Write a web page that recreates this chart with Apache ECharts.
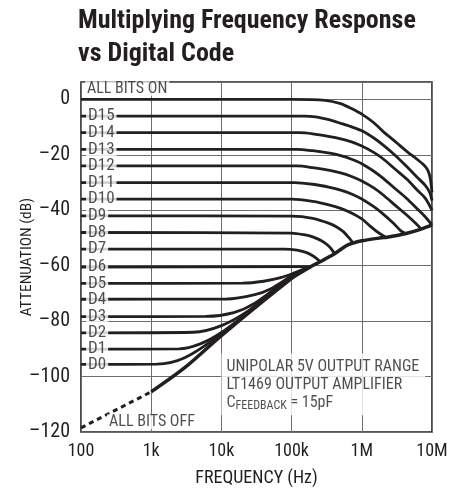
<!DOCTYPE html>
<html><head><meta charset="utf-8">
<script src="https://cdn.jsdelivr.net/npm/echarts@6/dist/echarts.min.js"></script>
<style>html,body{margin:0;padding:0;background:#fff}#c{width:467px;height:494px}</style>
</head><body><div id="c"></div>
<script>
// ---- data (frequency Hz, attenuation dB) ----
const xTicks = ['100','1k','10k','100k','1M','10M'];
const allBitsOn = [[100,0],[1e5,0],[3e5,-0.3],[5e5,-1.5],[7e5,-3.2],[1e6,-5.3],[1.5e6,-8.5],[2e6,-11.5],[3e6,-15.2],[4.4e6,-18.8],[6e6,-21.4],[7.6e6,-23.6],[8.6e6,-25.3],[9.2e6,-27.2],[9.6e6,-29.6],[1e7,-33.5]];
const d15 = [[100,-6],[1.5e5,-6],[2.2e5,-6.3],[3.5e5,-7.4],[5e5,-8.6],[7e5,-9.8],[1e6,-11.3],[1.5e6,-14],[2e6,-16.4],[3e6,-20.2],[4.4e6,-24.3],[6e6,-27.8],[8e6,-31],[9.3e6,-33.6],[1e7,-36.5]];
const d14 = [[100,-12],[1.3e5,-12],[2e5,-12.4],[3.5e5,-13.4],[5e5,-14.2],[7e5,-15.2],[1e6,-16.8],[1.5e6,-19.2],[2e6,-21.4],[3e6,-25.2],[4.4e6,-28.8],[6e6,-32.4],[8e6,-35.6],[1e7,-40]];
const d13 = [[100,-18],[1.2e5,-18],[2e5,-18.5],[3.5e5,-19.4],[5e5,-20.3],[7e5,-21.5],[1e6,-23.2],[1.5e6,-26],[2e6,-28.4],[3e6,-32.2],[4.4e6,-35.8],[6e6,-39.2],[8e6,-42.3],[1e7,-45.3]];
const d12 = [[100,-24],[1.2e5,-24],[2e5,-24.6],[3.5e5,-25.6],[5e5,-26.5],[7e5,-27.7],[1e6,-29.4],[1.5e6,-32],[2e6,-34.4],[3e6,-38.2],[4.4e6,-41.8],[5.8e6,-44.6],[7e6,-46.7]];
const d11 = [[100,-30],[1.1e5,-30],[2e5,-30.6],[3.5e5,-31.7],[5e5,-32.7],[7e5,-34],[1e6,-35.9],[1.5e6,-38.8],[2e6,-41.3],[2.8e6,-44.6],[3.6e6,-47.4],[4.2e6,-48.4]];
const d10 = [[100,-36],[1e5,-36],[2e5,-36.8],[3.5e5,-38.1],[5e5,-39.3],[7e5,-40.9],[1e6,-43.1],[1.3e6,-45.6],[1.7e6,-48],[2.2e6,-49.7]];
const d9 = [[100,-42],[1e5,-42.1],[2e5,-42.9],[3.5e5,-44.8],[4.5e5,-46.2],[5.5e5,-47.8],[6.5e5,-49.8],[7.5e5,-51.8]];
const d8 = [[100,-48],[1e5,-48.2],[1.5e5,-48.8],[2e5,-49.6],[2.7e5,-51.1],[3.4e5,-53],[4.1e5,-55.6]];
const d7 = [[100,-54],[8e4,-54],[1.2e5,-54.4],[1.6e5,-55.2],[2e5,-56.4],[2.3e5,-57.5],[2.6e5,-58.6]];
const d6 = [[100,-60.5],[1.9e5,-60.3]];
const d5 = [[100,-66.4],[2e4,-66.3],[4e4,-65.6],[7e4,-64.3],[1e5,-63],[1.4e5,-61.5],[1.9e5,-60.3]];
const d4 = [[100,-72.1],[1.2e4,-72],[3e4,-70.4],[5e4,-68.4],[1e5,-63.7],[1.9e5,-60.3]];
const d3 = [[100,-78.4],[6e3,-78.3],[1.5e4,-76.9],[3e4,-73.5],[1e5,-63.9],[1.9e5,-60.3]];
const d2 = [[100,-84.2],[4e3,-84],[1e4,-81.6],[2.5e4,-76],[1e5,-64.1],[1.9e5,-60.3]];
const d1 = [[100,-90.1],[2.5e3,-90],[5e3,-88.2],[1e4,-84.1],[3e4,-75],[1e5,-64.3],[1.9e5,-60.3]];
const d0 = [[100,-95.6],[1.2e3,-95.5],[3e3,-93.2],[1e4,-84.6],[1e5,-64.4],[1.9e5,-60.3]];
const allBitsOffDashed = [[100,-118.5],[1e3,-105.5]];
const allBitsOffSolid = [[1e3,-105.5],[3e3,-96.8],[1e4,-85.2],[1e5,-64.6],[1.5e5,-61.8],[2e5,-59.9],[2.6e5,-58.5],[3.6e5,-56.5],[4.2e5,-55.5],[6e5,-52.8],[7.5e5,-51.8],[1e6,-51],[1.8e6,-50],[2.3e6,-49.7],[3e6,-49.2],[4.4e6,-48.3],[7e6,-46.8],[1e7,-45.3]];
const codeNames = ['D15','D14','D13','D12','D11','D10','D9','D8','D7','D6','D5','D4','D3','D2','D1','D0'];
const codeCurves = [d15,d14,d13,d12,d11,d10,d9,d8,d7,d6,d5,d4,d3,d2,d1,d0];

// ---- chart ----
const INK = '#231f20';
const FONT = "'Liberation Sans Narrow','Roboto Condensed','Liberation Sans',sans-serif";
const chart = echarts.init(document.getElementById('c'), null, {renderer:'canvas'});
const lineSeries = (data, w, extra) => Object.assign({
  type:'line', data, showSymbol:false, symbol:'none', smooth:0.3,
  lineStyle:{color:INK, width:w}, silent:true, z:3, animation:false
}, extra||{});
const series = [];
series.push(lineSeries(allBitsOn, 2.8, {smooth:0.22}));
codeCurves.forEach(c => series.push(lineSeries(c, 2.8)));
series.push(lineSeries(allBitsOffSolid, 3.5, {z:4}));
series.push(lineSeries(allBitsOffDashed, 3, {smooth:false, lineStyle:{color:INK, width:3, type:[5,4]}}));
// code labels sit on their curves
series.push({
  type:'scatter', symbolSize:0, silent:true, z:10, animation:false,
  data: codeNames.map((n,i)=>({name:n, value:[118, codeCurves[i][0][1]]})),
  label:{show:true, position:'right', distance:0, formatter:'{b}', color:INK, fontFamily:FONT,
    fontSize:17, lineHeight:15, backgroundColor:'#fff', padding:[0,2,0,2]}
});
// annotations
const notes = [
  {name:'ALL BITS ON', value:[114, 3.9]},
  {name:'ALL BITS OFF', value:[235, -116.3]}
];
series.push({
  type:'scatter', symbolSize:0, silent:true, z:10, animation:false, data: notes,
  label:{show:true, position:'right', distance:0, formatter:'{b}', color:INK, fontFamily:FONT,
    fontSize:16, lineHeight:15, backgroundColor:'#fff', padding:[0,2,0,2]}
});
series.push({
  type:'scatter', symbolSize:0, silent:true, z:10, animation:false,
  data:[{name:'note', value:[10000, -102.8]}],
  label:{show:true, position:'right', distance:0, color:INK, fontFamily:FONT, fontSize:16,
    backgroundColor:'#fff', padding:[4,6,3,5], lineHeight:18.3,
    formatter:'UNIPOLAR 5V OUTPUT RANGE\nLT1469 OUTPUT AMPLIFIER\n{n|C}{s|FEEDBACK}{n| = 15pF}',
    rich:{n:{fontSize:16, lineHeight:18.3, fontFamily:FONT, color:INK},
          s:{fontSize:12, lineHeight:9, verticalAlign:'bottom', fontFamily:FONT, color:INK}}}
});

chart.setOption({
  animation:false,
  backgroundColor:'#fff',
  title:{text:'Multiplying Frequency Response\nvs Digital Code', left:73, top:0,
    textStyle:{fontFamily:FONT, fontWeight:'bold', fontSize:26, lineHeight:33, color:INK}},
  grid:{left:81, right:35, top:82, bottom:62, containLabel:false, outerBoundsMode:'none',
    show:true, borderColor:INK, borderWidth:1.6, backgroundColor:'transparent'},
  xAxis:{type:'log', logBase:10, min:100, max:1e7,
    axisLine:{show:false}, axisTick:{show:false}, minorTick:{show:false},
    splitLine:{show:true, lineStyle:{color:'#6d6d6d', width:1}},
    axisLabel:{color:INK, fontFamily:FONT, fontSize:18, margin:10,
      formatter:v=>{const k=Math.round(Math.log10(v))-2; return xTicks[k]!==undefined?xTicks[k]:'';}},
    name:'FREQUENCY (Hz)', nameLocation:'middle', nameGap:37,
    nameTextStyle:{color:INK, fontFamily:FONT, fontSize:18}},
  yAxis:{type:'value', min:-120, max:6.3, interval:20,
    axisLine:{show:false}, axisTick:{show:false},
    splitLine:{show:true, lineStyle:{color:'#6d6d6d', width:1}},
    axisLabel:{color:INK, fontFamily:FONT, fontSize:20, margin:11, showMaxLabel:false,
      formatter:v=> v>0.5?'':(v<0?'\u2013'+Math.abs(v):String(v))},
    name:'ATTENUATION (dB)', nameLocation:'middle', nameGap:46, nameRotate:90, nameMoveOverlap:false,
    nameTextStyle:{color:INK, fontFamily:FONT, fontSize:15.5}},
  series
});
</script></body></html>
